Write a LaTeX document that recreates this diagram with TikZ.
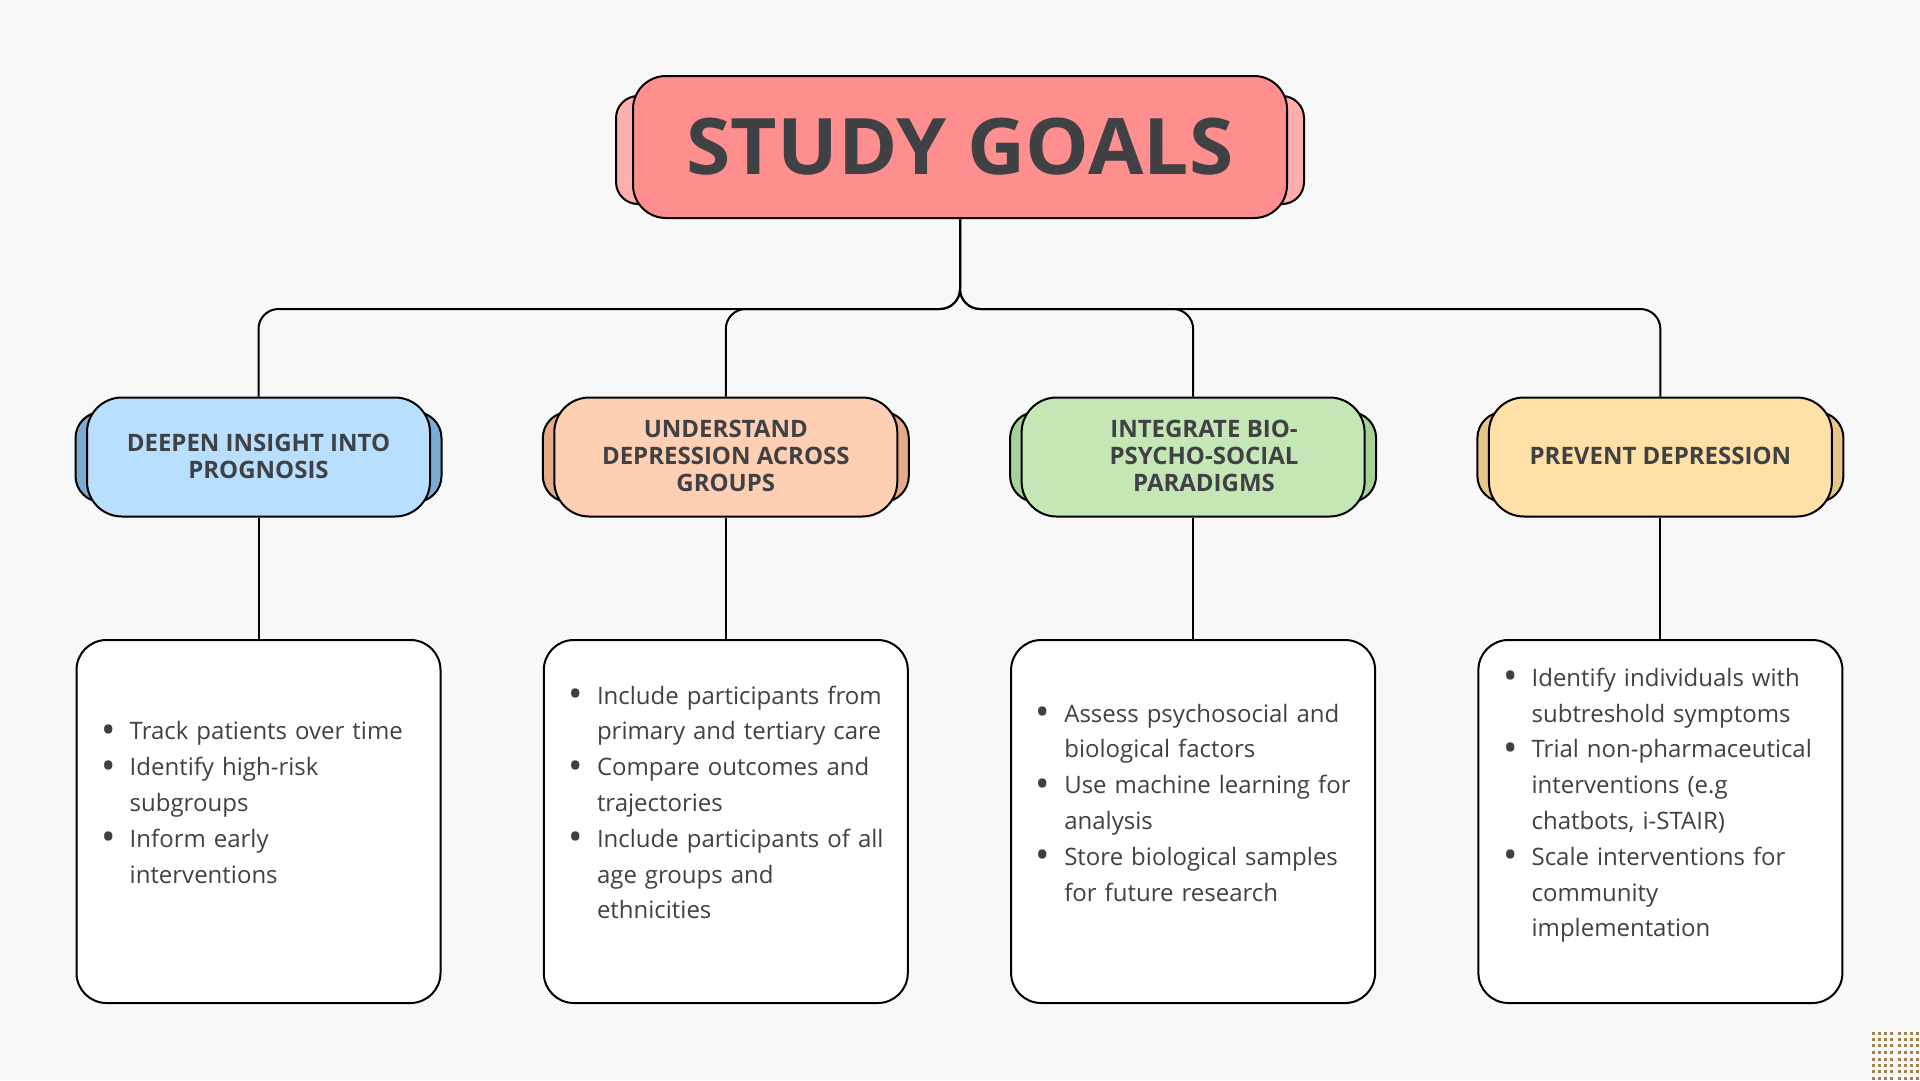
\documentclass[tikz,border=0pt]{standalone}
\usepackage{fontspec}
\usepackage{graphicx}
\setmainfont{Open Sans}
\usetikzlibrary{calc}

\definecolor{pagebg}{HTML}{F8F8F8}
\definecolor{ink}{HTML}{3F4145}
\definecolor{titlemain}{HTML}{FF8F8F}
\definecolor{titlerear}{HTML}{FFAEAE}
\definecolor{bluemain}{HTML}{B9DFFE}
\definecolor{bluerear}{HTML}{7CABD1}
\definecolor{orangemain}{HTML}{FFCFB3}
\definecolor{orangerear}{HTML}{E4AB88}
\definecolor{greenmain}{HTML}{C5E7B6}
\definecolor{greenrear}{HTML}{A5D196}
\definecolor{yellowmain}{HTML}{FFE0A6}
\definecolor{yellowrear}{HTML}{E7C689}
\definecolor{dotc}{HTML}{A4804A}

% bullet hung to the left of the item text
\newcommand\bul{\leavevmode\llap{\raisebox{-3.5pt}{\scalebox{1.6}{\textbullet}}\hspace{14pt}}}

\tikzset{
  conn/.style={line width=2pt, rounded corners=20pt},
  outline/.style={draw=black, line width=2pt},
  titlebox/.style={outline, rounded corners=33pt, minimum width=654pt,
    minimum height=142pt, inner sep=0pt,
    font=\fontsize{78}{82}\selectfont\bfseries, text=ink},
  titleback/.style={outline, rounded corners=22pt, minimum width=688pt,
    minimum height=108pt},
  headbox/.style={outline, rounded corners=35pt, minimum width=343pt,
    minimum height=119pt, inner sep=0pt},
  headback/.style={outline, rounded corners=26pt, minimum width=366pt,
    minimum height=90pt},
  headtext/.style={align=center, inner sep=0pt,
    font=\fontsize{24}{27}\selectfont\bfseries, text=ink},
  bodybox/.style={outline, fill=white, rounded corners=30pt,
    minimum width=364pt, minimum height=363pt},
  bodytext/.style={anchor=base west, text width=340pt, align=left,
    inner sep=0pt, font=\fontsize{24}{35.8}\selectfont, text=ink},
}

\begin{document}
\begin{tikzpicture}[x=1pt, y=-1pt]
  % page
  \fill[pagebg] (0,0) rectangle (1920,1080);
  \useasboundingbox (0,0) rectangle (1920,1080);

  % title
  \node[titleback, fill=titlerear] (titlerearbox) at (960,150) {};
  \node[titlebox, fill=titlemain] (title) at (960,147) {\scalebox{1.03}[1]{STUDY GOALS}};

  % column headers
  \node[headback, fill=bluerear]   (h1rear) at (258.5,457) {};
  \node[headbox,  fill=bluemain]   (h1)     at (258.5,457) {};
  \node[headtext] (h1t) at (258.5,456) {DEEPEN INSIGHT INTO\\PROGNOSIS};

  \node[headback, fill=orangerear] (h2rear) at (725.8,457) {};
  \node[headbox,  fill=orangemain] (h2)     at (725.8,457) {};
  \node[headtext] (h2t) at (725.8,456) {UNDERSTAND\\DEPRESSION ACROSS\\GROUPS};

  \node[headback, fill=greenrear]  (h3rear) at (1193.1,457) {};
  \node[headbox,  fill=greenmain]  (h3)     at (1193.1,457) {};
  \node[headtext] (h3t) at (1204,456) {INTEGRATE BIO-\\PSYCHO-SOCIAL\\PARADIGMS};

  \node[headback, fill=yellowrear] (h4rear) at (1660.4,457) {};
  \node[headbox,  fill=yellowmain] (h4)     at (1660.4,457) {};
  \node[headtext] (h4t) at (1660.4,456) {PREVENT DEPRESSION};

  % detail boxes
  \node[bodybox] (b1) at (258.5,821.5) {};
  \node[bodybox] (b2) at (725.8,821.5) {};
  \node[bodybox] (b3) at (1193.1,821.5) {};
  \node[bodybox] (b4) at (1660.4,821.5) {};

  \node[bodytext] (b1t) at (129.5,739.9) {%
    \bul Track patients over time\\
    \bul Identify high-risk\\
    subgroups\\
    \bul Inform early\\
    interventions};

  \node[bodytext] (b2t) at (596.8,704.1) {%
    \bul Include participants from\\
    primary and tertiary care\\
    \bul Compare outcomes and\\
    trajectories\\
    \bul Include participants of all\\
    age groups and\\
    ethnicities};

  \node[bodytext] (b3t) at (1064.1,722) {%
    \bul Assess psychosocial and\\
    biological factors\\
    \bul Use machine learning for\\
    analysis\\
    \bul Store biological samples\\
    for future research};

  \node[bodytext] (b4t) at (1531.4,686.2) {%
    \bul Identify individuals with\\
    subtreshold symptoms\\
    \bul Trial non-pharmaceutical\\
    interventions (e.g\\
    chatbots, i-STAIR)\\
    \bul Scale interventions for\\
    community\\
    implementation};

  % connectors from the title to the headers
  \foreach \h in {h1,h2,h3,h4}
    \draw[conn] (title.south) -- ++(0,90) -| (\h.north);

  % connectors from the headers to the detail boxes
  \foreach \i in {1,2,3,4}
    \draw[line width=2pt] (h\i.south) -- (b\i.north);

  % dotted corner pattern
  \foreach \dx in {1873,1879,1885,1891,1899,1905,1911,1917}
    \foreach \dy in {1033,1039,1045,1052,1059,1065,1071,1078}
      \fill[dotc] (\dx-1.5,\dy-1.5) rectangle ++(3,3);
\end{tikzpicture}
\end{document}
